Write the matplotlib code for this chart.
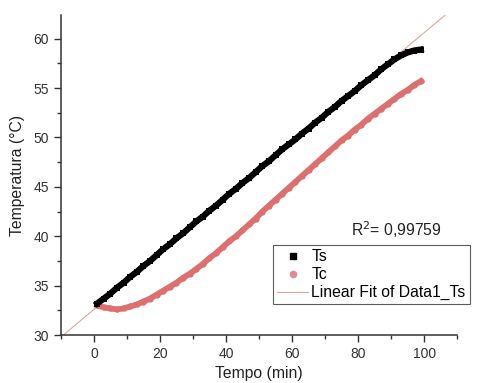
import numpy as np
import matplotlib
matplotlib.use("Agg")
import matplotlib.pyplot as plt
from matplotlib.ticker import MultipleLocator

plt.rcParams['font.family'] = ['Liberation Sans', 'DejaVu Sans']

# tempo (min)
tempo = [1, 3, 5, 7, 9, 11, 13, 15, 17, 19, 21, 23, 25, 27, 29, 31, 33, 35, 37, 39,
         41, 43, 45, 47, 49, 51, 53, 55, 57, 59, 61, 63, 65, 67, 69, 71, 73, 75, 77, 79,
         81, 83, 85, 87, 89, 91, 93, 95, 97, 99]

Ts = [33.2, 33.7, 34.2, 34.8, 35.3, 35.9, 36.4, 37.0, 37.5, 38.1,
      38.7, 39.2, 39.8, 40.3, 40.9, 41.5, 42.0, 42.6, 43.1, 43.7,
      44.3, 44.8, 45.4, 45.9, 46.5, 47.1, 47.6, 48.2, 48.8, 49.3,
      49.8, 50.4, 50.9, 51.5, 52.0, 52.6, 53.1, 53.7, 54.2, 54.7,
      55.3, 55.8, 56.3, 56.9, 57.4, 57.9, 58.3, 58.6, 58.8, 58.9]

Tc = [33.0, 32.8, 32.7, 32.6, 32.7, 32.9, 33.1, 33.4, 33.7, 34.1,
      34.5, 34.9, 35.3, 35.8, 36.2, 36.7, 37.2, 37.8, 38.3, 38.9,
      39.5, 40.0, 40.6, 41.2, 41.8, 42.5, 43.1, 43.7, 44.3, 44.9,
      45.5, 46.1, 46.7, 47.3, 47.9, 48.5, 49.1, 49.7, 50.2, 50.8,
      51.3, 51.9, 52.4, 52.9, 53.4, 53.9, 54.4, 54.8, 55.3, 55.7]

# linear fit of Ts as drawn in the picture
fit_intercept = 32.6
fit_slope = 0.28
r2_text = "R$^2$= 0,99759"

fig = plt.figure(figsize=(4.91, 3.83), dpi=100)
ax = fig.add_axes([0.124, 0.125, 0.807, 0.836])

xfit = np.array([-10, 110])
ax.plot(xfit, fit_intercept + fit_slope * xfit, color='#d8a8a0', lw=0.8, zorder=1)
ax.plot(tempo, Tc, color='#dd6f6f', lw=4.2, marker='o', ms=4.5,
        markeredgewidth=0, zorder=2)
ax.plot(tempo, Ts, color='black', lw=4.5, marker='s', ms=4.5,
        markeredgewidth=0, zorder=3)

# legend handles
h_ts, = ax.plot([], [], ls='none', marker='s', ms=4, color='black', label='Ts')
h_tc, = ax.plot([], [], ls='none', marker='o', ms=4.5, color='#dd8f8f', label='Tc')
h_fit, = ax.plot([], [], color='#d8a8a0', lw=0.8, label='Linear Fit of Data1_Ts')

ax.set_xlim(-10, 110)
ax.set_ylim(30, 62.4)
ax.xaxis.set_major_locator(MultipleLocator(20))
ax.xaxis.set_minor_locator(MultipleLocator(10))
ax.yaxis.set_major_locator(MultipleLocator(5))
ax.yaxis.set_minor_locator(MultipleLocator(2.5))
ax.spines['top'].set_visible(False)
ax.spines['right'].set_visible(False)
for s in ['left', 'bottom']:
    ax.spines[s].set_color('#333333')
    ax.spines[s].set_linewidth(1.1)
ax.tick_params(which='major', direction='out', length=5, width=1, colors='#333333',
               labelsize=10)
ax.tick_params(which='minor', direction='out', length=3, width=1, colors='#333333')

ax.set_xlabel('Tempo (min)', fontsize=11.3, color='#222222', labelpad=4)
ax.set_ylabel('Temperatura (°C)', fontsize=11.3, color='#222222', labelpad=6)

fig.text(0.807, 0.40, r2_text, fontsize=11.3, ha='center', va='center', color='#222222')

leg = fig.legend(handles=[h_ts, h_tc, h_fit], loc='upper left',
                 bbox_to_anchor=(0.556, 0.36), fontsize=11.3, frameon=True,
                 fancybox=False, edgecolor='#333333', borderaxespad=0,
                 handlelength=2.0, handletextpad=0.2, labelspacing=0.2,
                 borderpad=0.25)
leg.get_frame().set_linewidth(0.8)

fig.savefig('out.png', dpi=100)
